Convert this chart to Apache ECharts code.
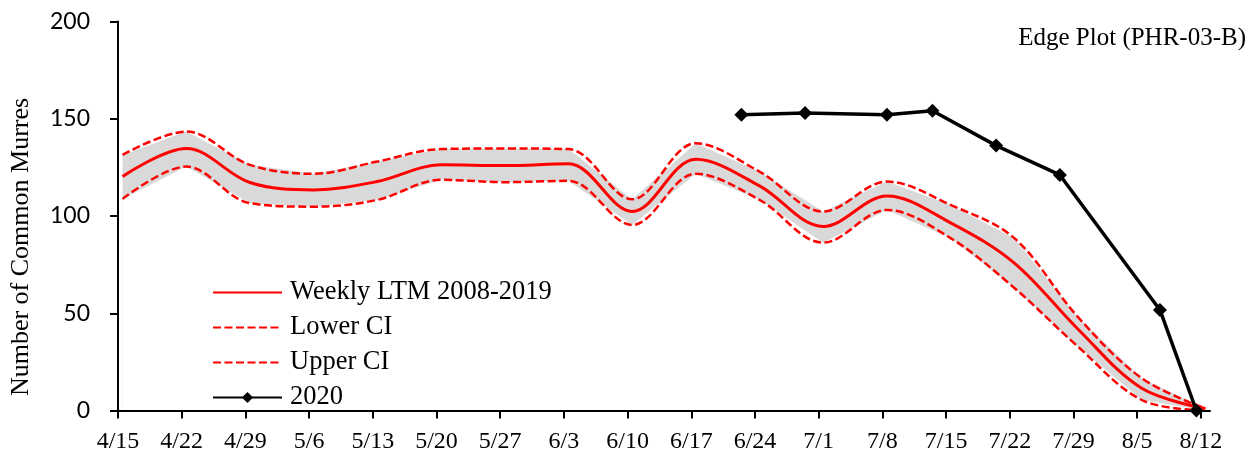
<!DOCTYPE html>
<html>
<head>
<meta charset="utf-8">
<script src="https://cdn.jsdelivr.net/npm/echarts@6/dist/echarts.min.js"></script>
<style>
  html, body { margin: 0; padding: 0; background: #fff; }
  #chart { width: 1257px; height: 459px; }
</style>
</head>
<body>
<div id="chart"></div>
<script>
// weekly tick labels (also the dates of the long-term mean points)
const tickLabels = ['4/15', '4/22', '4/29', '5/6', '5/13', '5/20', '5/27', '6/3', '6/10',
                    '6/17', '6/24', '7/1', '7/8', '7/15', '7/22', '7/29', '8/5', '8/12'];

// weekly long-term mean 2008-2019 and its confidence interval
const ltmValues = [120.3, 134.7, 117.2, 113.4, 117.7, 126.3, 125.9, 126.8, 102.3,
                   129.2, 115.5, 94.6, 110.3, 96.5, 75.8, 41.8, 11.4, 1];
const upperCI   = [131.4, 143.4, 126.3, 121.7, 128.0, 134.4, 134.7, 134.4, 108.6,
                   137.4, 122.8, 102.3, 117.7, 105.7, 88.6, 48.0, 16.6, 1];
const lowerCI   = [108.8, 125.4, 106.6, 104.8, 108.3, 118.6, 117.4, 118.1, 95.4,
                   121.7, 108.3, 86.3, 103.1, 88.6, 63.0, 32.8, 5.4, 0];

// 2020 survey counts
const dates2020  = ['6/22', '6/29', '7/8', '7/13', '7/20', '7/27', '8/7', '8/11'];
const values2020 = [152, 152.9, 152, 154.1, 136.2, 121.1, 51.7, 0];

const SERIF = "'Liberation Serif', 'Times New Roman', serif";
const RED = '#FF0000';
const SMOOTH = 0.35;

/* days since 4/15, points sit in the middle of their day like on an Excel date axis */
function dayOf(md, mid) {
    const [m, d] = md.split('/').map(Number);
    const days = (Date.UTC(2020, m - 1, d) - Date.UTC(2020, 3, 15)) / 86400000;
    return mid ? days + 0.5 : days;
}

const tickDays = tickLabels.map(t => dayOf(t, false));
const pairs = (dates, vals) => dates.map((d, i) => [dayOf(d, true), vals[i]]);

const chart = echarts.init(document.getElementById('chart'), null, { renderer: 'canvas' });

chart.setOption({
    animation: false,
    backgroundColor: '#fff',
    title: {
        text: 'Edge Plot (PHR-03-B)',
        right: 11,
        top: 26,
        padding: 0,
        textStyle: { fontFamily: SERIF, fontSize: 25, fontWeight: 'normal', color: '#000' },
    },
    legend: {
        orient: 'vertical',
        left: 212,
        top: 279,
        padding: 0,
        itemWidth: 69,
        itemHeight: 14,
        itemGap: 8,
        data: [
            { name: 'Weekly LTM 2008-2019', itemStyle: { opacity: 0 } },
            { name: 'Lower CI', itemStyle: { opacity: 0 } },
            { name: 'Upper CI', itemStyle: { opacity: 0 } },
            { name: '2020' },
        ],
        textStyle: { fontFamily: SERIF, fontSize: 26.5, color: '#000', padding: [0, 0, 0, 3] },
    },
    grid: { left: 118, right: 47, top: 21.5, bottom: 48.5 },
    xAxis: {
        type: 'value',
        min: 0,
        max: 120,
        z: 10,
        splitLine: { show: false },
        axisLine: { lineStyle: { color: '#000', width: 2 } },
        axisTick: { length: 8, lineStyle: { color: '#000', width: 2 }, customValues: tickDays },
        axisLabel: {
            customValues: tickDays,
            formatter: v => tickLabels[tickDays.indexOf(v)] || '',
            fontFamily: SERIF, fontSize: 24, color: '#000', margin: 19,
        },
    },
    yAxis: {
        type: 'value',
        min: 0,
        max: 200,
        interval: 50,
        z: 10,
        name: 'Number of Common Murres',
        nameLocation: 'middle',
        nameGap: 84,
        nameTextStyle: { fontFamily: SERIF, fontSize: 26, color: '#000', padding: [0, 62, 0, 0] },
        splitLine: { show: false },
        axisLine: { show: true, lineStyle: { color: '#000', width: 2 } },
        axisTick: { show: true, length: 8, lineStyle: { color: '#000', width: 2 } },
        axisLabel: { fontFamily: "Lato, 'Open Sans', sans-serif", fontSize: 23, color: '#000', margin: 28 },
    },
    series: [
        // gray confidence band: upper area in gray, lower area in white on top of it
        {
            name: 'band-upper',
            type: 'line',
            data: pairs(tickLabels, upperCI),
            symbol: 'none',
            lineStyle: { width: 0 },
            areaStyle: { color: '#D9D9D9', opacity: 1 },
            silent: true,
            z: 1,
        },
        {
            name: 'band-lower',
            type: 'line',
            data: pairs(tickLabels, lowerCI),
            symbol: 'none',
            lineStyle: { width: 0 },
            areaStyle: { color: '#fff', opacity: 1 },
            silent: true,
            z: 2,
        },
        {
            name: 'Weekly LTM 2008-2019',
            type: 'line',
            data: pairs(tickLabels, ltmValues),
            smooth: SMOOTH,
            symbol: 'none',
            lineStyle: { color: RED, width: 3 },
            itemStyle: { color: RED },
            z: 5,
        },
        {
            name: 'Lower CI',
            type: 'line',
            data: pairs(tickLabels, lowerCI),
            smooth: SMOOTH,
            symbol: 'none',
            lineStyle: { color: RED, width: 2.5, type: [8, 3.5] },
            itemStyle: { color: RED },
            z: 5,
        },
        {
            name: 'Upper CI',
            type: 'line',
            data: pairs(tickLabels, upperCI),
            smooth: SMOOTH,
            symbol: 'none',
            lineStyle: { color: RED, width: 2.5, type: [8, 3.5] },
            itemStyle: { color: RED },
            z: 5,
        },
        {
            name: '2020',
            type: 'line',
            data: pairs(dates2020, values2020),
            symbol: 'diamond',
            symbolSize: 14,
            lineStyle: { color: '#000', width: 3.5 },
            itemStyle: { color: '#000' },
            z: 12,
        },
    ],
});
</script>
</body>
</html>
